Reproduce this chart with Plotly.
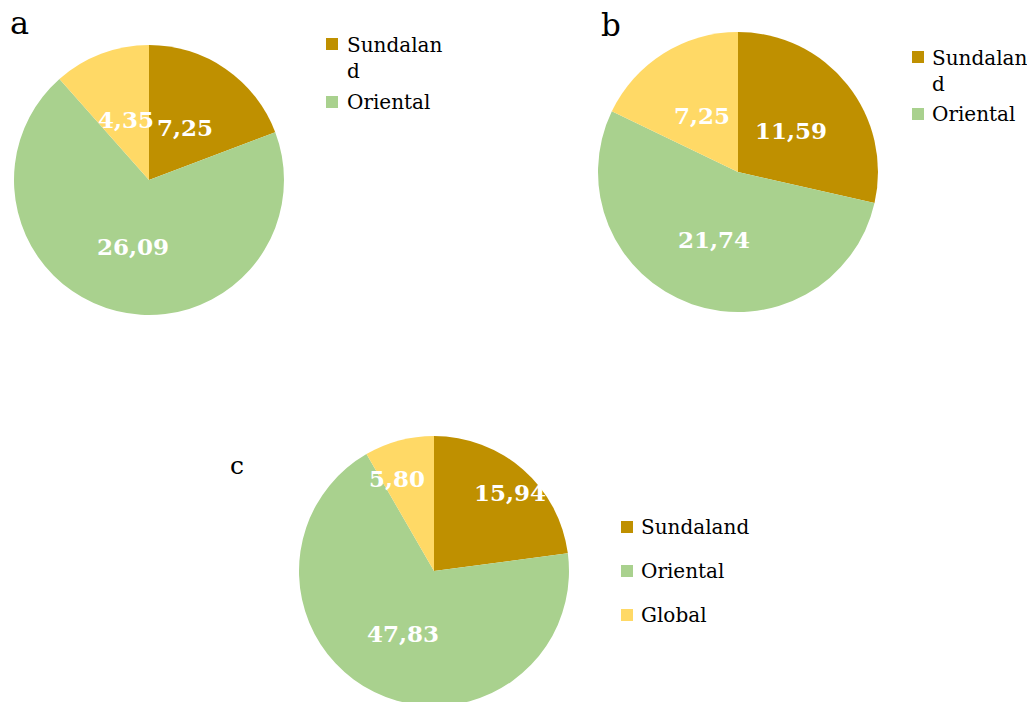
import math
import plotly.graph_objects as go

# Share of species per biogeographic region, three assemblages
regions = ["Sundaland", "Oriental", "Global"]
values_a = [7.25, 26.09, 4.35]
values_b = [11.59, 21.74, 7.25]
values_c = [15.94, 47.83, 5.80]
panel_names = ["a", "b", "c"]

colors = ["#BF9000", "#A9D18E", "#FFD966"]

W, H = 1027, 710
SERIF = "DejaVu Serif"

# pixel geometry of each pie: centre x, centre y, radius
pies = [
    dict(vals=values_a, cx=149, cy=180, r=135, lab_r=[0.47, 0.51, 0.48], lab_da=[0, 0, 0]),
    dict(vals=values_b, cx=738, cy=172, r=140, lab_r=[0.48, 0.51, 0.48], lab_da=[0, 0, 0]),
    dict(vals=values_c, cx=434, cy=571, r=135, lab_r=[0.81, 0.52, 0.74], lab_da=[3, 0, -7]),
]


def px(x):
    return x / W


def py(y):
    return 1 - y / H


def fmt(v):
    return f"{v:.2f}".replace(".", ",")


fig = go.Figure()
annotations = []
shapes = []

for p in pies:
    cx, cy, r = p["cx"], p["cy"], p["r"]
    fig.add_trace(go.Pie(
        labels=regions,
        values=p["vals"],
        sort=False,
        direction="clockwise",
        rotation=0,
        marker=dict(colors=colors, line=dict(width=0)),
        textinfo="none",
        hoverinfo="label+value",
        showlegend=False,
        domain=dict(x=[px(cx - r), px(cx + r)], y=[py(cy + r), py(cy - r)]),
    ))
    # value labels at each slice's mid-angle
    total = sum(p["vals"])
    start = 0.0
    for v, fr, da in zip(p["vals"], p["lab_r"], p["lab_da"]):
        span = v / total * 360
        mid = math.radians(start + span / 2 + da)
        start += span
        lx = cx + fr * r * math.sin(mid)
        ly = cy - fr * r * math.cos(mid)
        annotations.append(dict(
            x=px(lx), y=py(ly), xref="paper", yref="paper",
            text=f"<b>{fmt(v)}</b>", showarrow=False,
            xanchor="center", yanchor="middle",
            font=dict(family=SERIF, size=23, color="white"),
        ))

# panel letters
for name, (x, y, size) in zip(panel_names, [(19, 23, 32), (611, 25, 31), (237, 465, 25)]):
    annotations.append(dict(
        x=px(x), y=py(y), xref="paper", yref="paper", text=name, showarrow=False,
        xanchor="center", yanchor="middle",
        font=dict(family=SERIF, size=size, color="black"),
    ))

# legends: (square x, text x, [(row centre y, label, colour index)])
legends = [
    (326, 345, [(44, "Sundalan<br>d", 0), (102, "Oriental", 1)]),
    (912, 930, [(57, "Sundalan<br>d", 0), (114, "Oriental", 1)]),
    (621, 639, [(527, "Sundaland", 0), (571, "Oriental", 1), (615, "Global", 2)]),
]
for sx, tx, rows in legends:
    for cyr, label, ci in rows:
        shapes.append(dict(
            type="rect", xref="paper", yref="paper",
            x0=px(sx), x1=px(sx + 12), y0=py(cyr + 6), y1=py(cyr - 6),
            fillcolor=colors[ci], line=dict(width=0),
        ))
        multi = "<br>" in label
        annotations.append(dict(
            x=px(tx), y=py(cyr - 13) if multi else py(cyr), xref="paper", yref="paper",
            text=label, showarrow=False, align="left",
            xanchor="left", yanchor="top" if multi else "middle",
            font=dict(family=SERIF, size=20, color="black"),
        ))

fig.update_layout(
    width=W, height=H,
    margin=dict(l=0, r=0, t=0, b=0),
    paper_bgcolor="white", plot_bgcolor="white",
    annotations=annotations, shapes=shapes,
    showlegend=False,
)

fig.write_html(
    "out.html",
    config={"displayModeBar": False},
    post_script="document.body.style.margin='0';document.body.style.overflow='hidden';",
)
